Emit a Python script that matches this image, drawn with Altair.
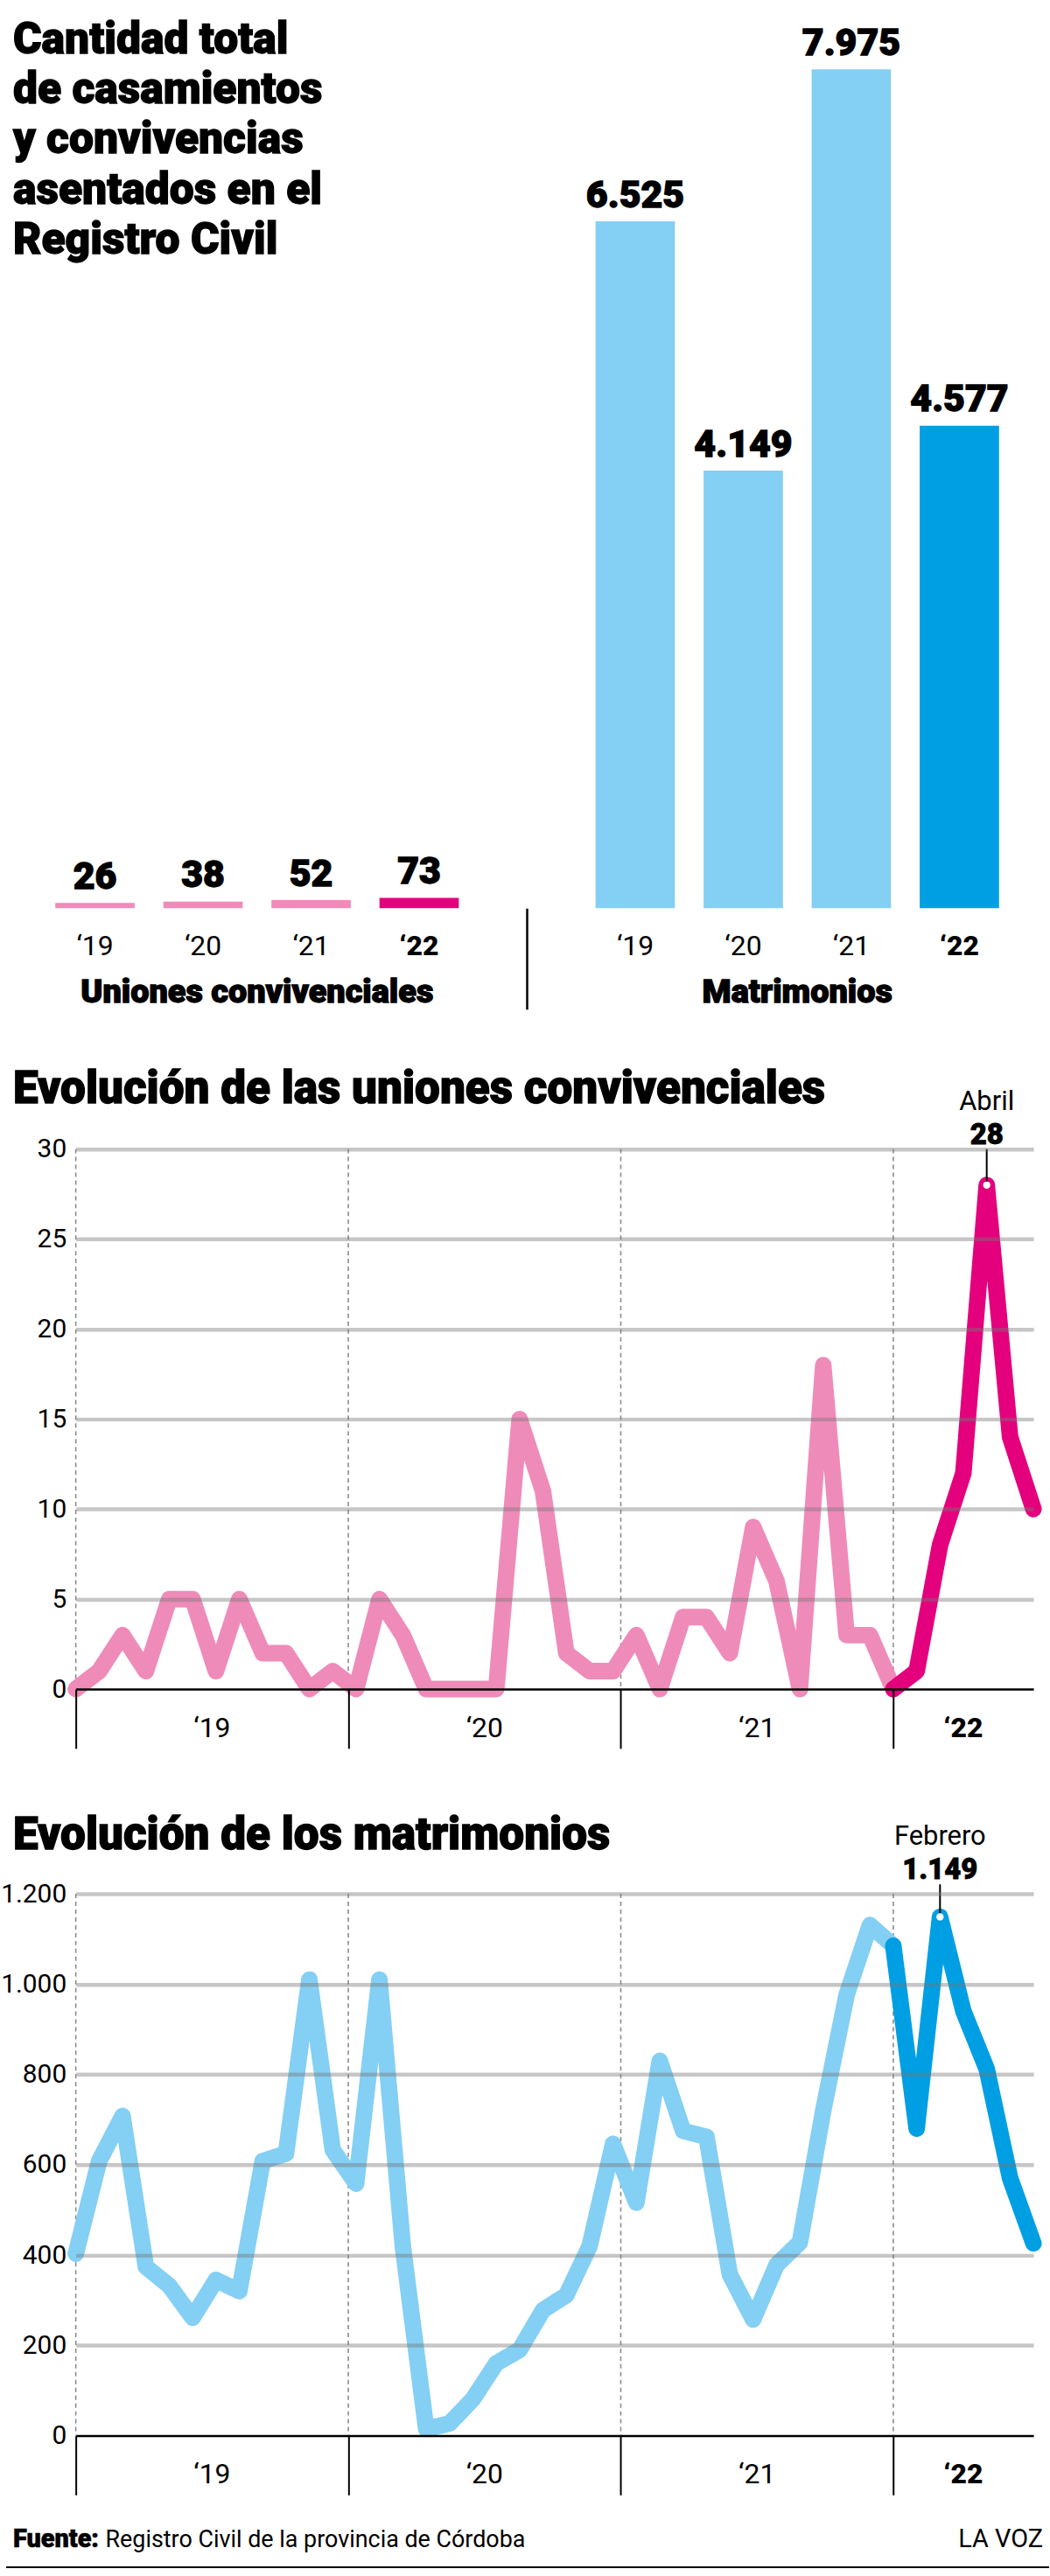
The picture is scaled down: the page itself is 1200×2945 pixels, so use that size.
import altair as alt
import pandas as pd

# ---------------- datos ----------------
anios = ["\u201819", "\u201820", "\u201821", "\u201822"]
uniones_total = [26, 38, 52, 73]
matrimonios_total = [6525, 4149, 7975, 4577]

# meses: ene-2019 ... jun-2022
uniones_mes = [0, 1, 3, 1, 5, 5, 1, 5, 2, 2, 0, 1,
               0, 5, 3, 0, 0, 0, 0, 15, 11, 2, 1, 1,
               3, 0, 4, 4, 2, 9, 6, 0, 18, 3, 3, 0,
               1, 8, 12, 28, 14, 10]
matrimonios_mes = [403, 608, 708, 374, 332, 261, 345, 320, 608, 625, 1010, 633,
                   558, 1010, 420, 15, 27, 81, 160, 190, 278, 311, 420, 646,
                   516, 830, 675, 662, 357, 257, 378, 428, 720, 976, 1131, 1085,
                   680, 1149, 940, 812, 570, 426]

limites_anio = [0, 35 / 3, 70 / 3, 35]
centro_anio = [35 / 6, 35 / 2, 35 * 5 / 6, 38]

titulo = ["Cantidad total", "de casamientos", "y convivencias",
          "asentados en el", "Registro Civil"]

# ---------------- estilos ----------------
ROSA_CL = "#ef8bb9"
ROSA = "#e4007d"
CEL = "#84cff4"
AZUL = "#009fe3"
FB = "Roboto"
FBW = 900
FR = "Roboto"
W = 1099
HEAVY = dict(font=FB, fontWeight=FBW, color="#000", stroke="#000", strokeWidth=1.3)


def fmt_miles(v):
    return f"{v:,}".replace(",", ".")


# ---------------- bloque superior ----------------
cats = ["U19", "U20", "U21", "U22", "gap", "M19", "M20", "M21", "M22"]
bar_cats = cats[:4] + cats[5:]
df_bars = pd.DataFrame({
    "cat": bar_cats,
    "valor": uniones_total + matrimonios_total,
    "etiqueta": [fmt_miles(v) for v in uniones_total + matrimonios_total],
    "anio": anios + anios,
})
sxA = alt.Scale(domain=cats, range=[-40, 1076], paddingInner=0.29, paddingOuter=0.145)
syA = alt.Scale(domain=[0, 8598], nice=False, zero=True)
xA = alt.X("cat:N", scale=sxA, axis=None)
yA = alt.Y("valor:Q", scale=syA, axis=None)
cscale = alt.Scale(domain=bar_cats, range=[ROSA_CL] * 3 + [ROSA] + [CEL] * 3 + [AZUL])

bars = alt.Chart(df_bars).mark_bar(strokeWidth=3).encode(
    x=xA, y=yA,
    color=alt.Color("cat:N", scale=cscale, legend=None),
    stroke=alt.Stroke("cat:N", scale=cscale, legend=None),
)
vals = alt.Chart(df_bars).mark_text(
    fontSize=43, baseline="alphabetic", dy=-18, **HEAVY
).encode(x=xA, y=yA, text="etiqueta:N")
yrs_reg = alt.Chart(df_bars).transform_filter("indexof(datum.cat, '22') < 0").mark_text(
    font=FR, fontSize=32, baseline="middle", color="#000"
).encode(x=xA, y=alt.value(1080), text="anio:N")
yrs_bold = alt.Chart(df_bars).transform_filter("indexof(datum.cat, '22') >= 0").mark_text(
    font=FB, fontWeight=FBW, fontSize=32, baseline="middle", color="#000"
).encode(x=xA, y=alt.value(1080), text="anio:N")
df_cap = pd.DataFrame({"cat": ["U20", "M20"], "t": ["Uniones convivenciales", "Matrimonios"]})
caps = alt.Chart(df_cap).mark_text(
    fontSize=38, baseline="middle", dx=62, **HEAVY
).encode(x=xA, y=alt.value(1134), text="t:N")
sep = alt.Chart(pd.DataFrame({"cat": ["gap"]})).mark_rule(color="#000", strokeWidth=2.5).encode(
    x=xA, y=alt.value(1037), y2=alt.value(1153))
head = alt.Chart(pd.DataFrame({"t": ["\n".join(titulo)]})).mark_text(
    fontSize=50, lineHeight=57.5, align="left",
    baseline="alphabetic", lineBreak="\n", **HEAVY
).encode(x=alt.value(-72), y=alt.value(55), text="t:N")

chartA = alt.layer(bars, vals, yrs_reg, yrs_bold, caps, sep, head).properties(width=W, height=1035)


# ---------------- graficos de linea ----------------
def line_chart(values, top_val, step, ymax, height, peak_i, leader_top, mes_txt,
               c_light, c_dark, title_txt, title_y, ylabel_expr, footer=False):
    n = len(values)
    df = pd.DataFrame({"idx": list(range(n)), "v": values})
    light = df[df.idx <= 35]
    dark = df[df.idx >= 35]
    sx = alt.Scale(domain=[0, n - 1], nice=False, zero=False)
    sy = alt.Scale(domain=[0, ymax], nice=False, zero=True)
    ax = alt.Axis(values=limites_anio, labels=False, grid=False, ticks=True, tickSize=68,
                  tickColor="#000", tickWidth=2, domain=True, domainColor="#000",
                  domainWidth=2.5, title=None, zindex=1)
    ay = alt.Axis(values=list(range(0, top_val + 1, step)), grid=True,
                  gridColor={"condition": {"test": "datum.value === 0", "value": "transparent"},
                             "value": "#777777"},
                  gridOpacity=0.42, gridWidth=4.5, domain=False, ticks=False,
                  labelFont=FR, labelFontSize=30, labelColor="#000", labelPadding=11,
                  labelExpr=ylabel_expr, title=None, zindex=1)

    def X(f):
        return alt.X(f"{f}:Q", scale=sx, axis=ax)

    def Y(f):
        return alt.Y(f"{f}:Q", scale=sy, axis=ay)

    df_r = pd.DataFrame({"b": limites_anio, "t": [top_val] * 4, "z": [0] * 4})
    rules = alt.Chart(df_r).mark_rule(color="#8c8c8c", strokeWidth=1.6, strokeDash=[5, 4]).encode(
        x=X("b"), y=Y("t"), y2="z")
    l1 = alt.Chart(light).mark_line(color=c_light, strokeWidth=19, strokeCap="round",
                                    strokeJoin="round").encode(x=X("idx"), y=Y("v"))
    l2 = alt.Chart(dark).mark_line(color=c_dark, strokeWidth=19, strokeCap="round",
                                   strokeJoin="round").encode(x=X("idx"), y=Y("v"))
    df_p = pd.DataFrame({"idx": [peak_i], "v": [values[peak_i]], "t": [leader_top],
                         "mes": [mes_txt], "lab": [fmt_miles(values[peak_i])]})
    lead = alt.Chart(df_p).mark_rule(color="#000", strokeWidth=2).encode(x=X("idx"), y=Y("t"), y2="v")
    dot = alt.Chart(df_p).mark_point(filled=True, fill="white", color="white", size=70,
                                     opacity=1).encode(x=X("idx"), y=Y("v"))
    t_val = alt.Chart(df_p).mark_text(fontSize=33, baseline="alphabetic", dy=-6,
                                      font=FB, fontWeight=FBW, color="#000",
                                      stroke="#000", strokeWidth=0.8).encode(
        x=X("idx"), y=Y("t"), text="lab:N")
    t_mes = alt.Chart(df_p).mark_text(font=FR, fontSize=31, baseline="alphabetic",
                                      dy=-45, color="#000").encode(
        x=X("idx"), y=Y("t"), text="mes:N")
    df_y = pd.DataFrame({"c": centro_anio, "t": anios})
    y_reg = alt.Chart(df_y.iloc[:3]).mark_text(font=FR, fontSize=32, baseline="middle",
                                               color="#000").encode(
        x=X("c"), y=alt.value(height + 45), text="t:N")
    y_bold = alt.Chart(df_y.iloc[3:]).mark_text(font=FB, fontWeight=FBW, fontSize=32,
                                                baseline="middle", color="#000").encode(
        x=X("c"), y=alt.value(height + 45), text="t:N")
    ttl = alt.Chart(pd.DataFrame({"t": [title_txt]})).mark_text(
        fontSize=51.5, align="left", baseline="alphabetic", **HEAVY
    ).encode(x=alt.value(-72), y=alt.value(title_y), text="t:N")
    layers = [rules, l1, l2, lead, dot, t_val, t_mes, y_reg, y_bold, ttl]
    if footer:
        f1 = alt.Chart(pd.DataFrame({"t": ["Fuente:"]})).mark_text(
            fontSize=29, align="left", baseline="alphabetic", font=FB, fontWeight=FBW,
            color="#000", stroke="#000", strokeWidth=0.6
        ).encode(x=alt.value(-72), y=alt.value(750), text="t:N")
        f2 = alt.Chart(pd.DataFrame({"t": ["Registro Civil de la provincia de C\u00f3rdoba"]})).mark_text(
            font=FR, fontSize=27, align="left", baseline="alphabetic",
            color="#000").encode(x=alt.value(34), y=alt.value(750), text="t:N")
        f3 = alt.Chart(pd.DataFrame({"t": ["LA VOZ"]})).mark_text(
            font=FR, fontSize=29, align="right", baseline="alphabetic",
            color="#000").encode(x=alt.value(1110), y=alt.value(750), text="t:N")
        brd = alt.Chart(pd.DataFrame({"t": [1]})).mark_rule(color="#000", strokeWidth=2).encode(
            x=alt.value(-80), x2=alt.value(1117), y=alt.value(773))
        layers += [f1, f2, f3, brd]
    return alt.layer(*layers).properties(width=W, height=height)


chartB = line_chart(uniones_mes, 30, 5, 32.08, 663, 39, 30, "Abril", ROSA_CL, ROSA,
                    "Evoluci\u00f3n de las uniones convivenciales", -10, "datum.label")
chartC = line_chart(matrimonios_mes, 1200, 200, 1200, 622, 37, 1221, "Febrero", CEL, AZUL,
                    "Evoluci\u00f3n de los matrimonios", -51,
                    "replace(format(datum.value, ','), ',', '.')", footer=True)

chart = alt.vconcat(chartA, chartB, chartC, spacing=235, bounds="flush").properties(
    padding=0, background="white"
).configure_view(stroke=None)

chart.save("out.html", embed_options={"renderer": "svg", "actions": False})
